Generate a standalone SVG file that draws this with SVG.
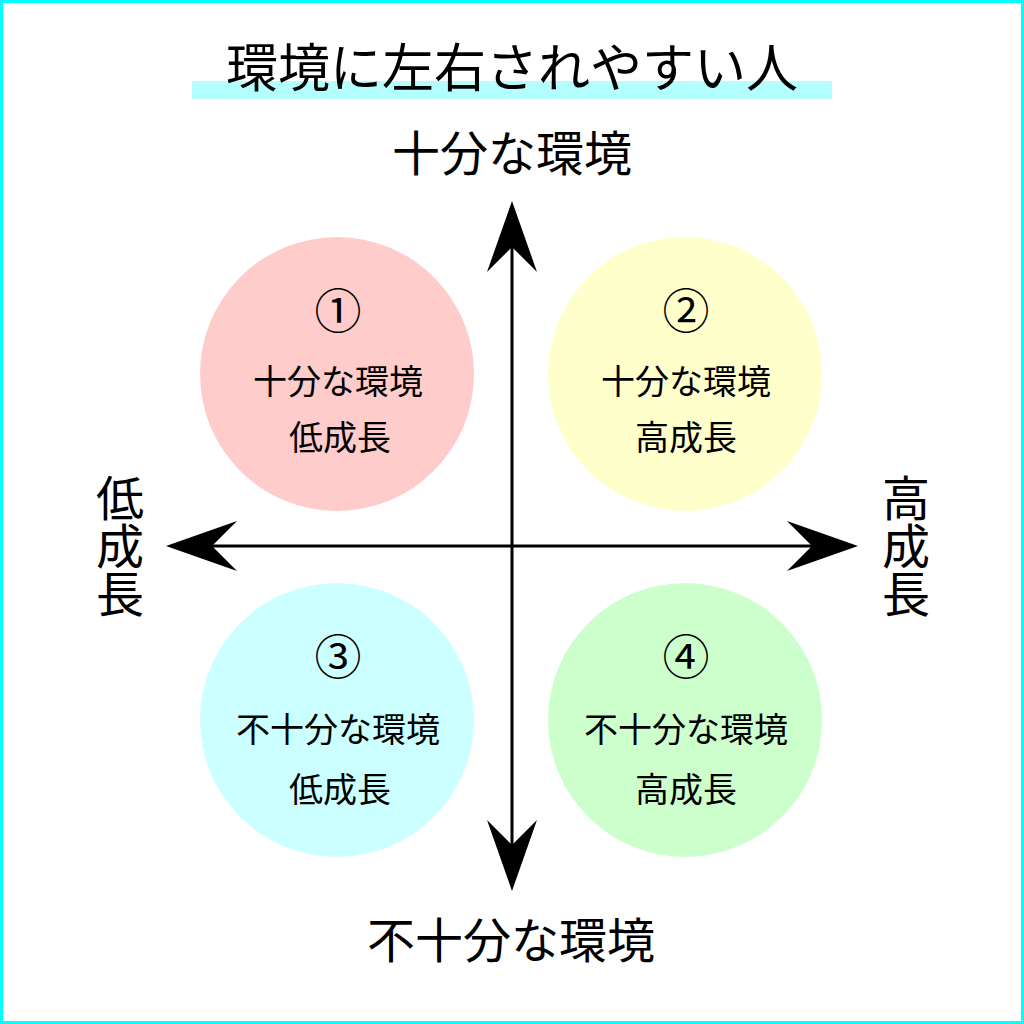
<svg xmlns="http://www.w3.org/2000/svg" width="1024" height="1024" viewBox="0 0 1024 1024">
  <style>
    text { font-family: "Noto Sans CJK JP", "Noto Sans CJK SC", sans-serif; fill: #000; text-anchor: middle; }
    .title { font-size: 52px; }
    .axis { font-size: 48px; }
    .vaxis { font-size: 48px; writing-mode: vertical-rl; text-orientation: upright; }
    .num { font-size: 47px; }
    .lbl { font-size: 34px; }
    .axisline { stroke: #000; stroke-width: 3; fill: none; marker-start: url(#arrow); marker-end: url(#arrow); }
  </style>
  <defs>
    <marker id="arrow" markerUnits="userSpaceOnUse" viewBox="-27 -27 74 54" markerWidth="74" markerHeight="54" refX="0" refY="0" orient="auto-start-reverse">
      <path d="M46,0 L-25,-25 L0,0 L-25,25 Z" fill="#000"/>
    </marker>
  </defs>
  <rect x="1.5" y="1.5" width="1021" height="1021" fill="#fff" stroke="#00ffff" stroke-width="3"/>

  <g id="title">
    <rect x="192" y="81" width="640" height="18" fill="#b3ffff"/>
    <text class="title" x="512" y="87">環境に左右されやすい人</text>
  </g>

  <g id="node1">
    <circle cx="337" cy="374" r="137" fill="#ffcccc"/>
    <text class="num" x="338" y="328">①</text>
    <text class="lbl" x="338" y="394">十分な環境</text>
    <text class="lbl" x="340" y="450">低成長</text>
  </g>
  <g id="node2">
    <circle cx="685" cy="374" r="137" fill="#ffffcc"/>
    <text class="num" x="686" y="328">②</text>
    <text class="lbl" x="686" y="394">十分な環境</text>
    <text class="lbl" x="686" y="450">高成長</text>
  </g>
  <g id="node3">
    <circle cx="337" cy="720" r="137" fill="#ccffff"/>
    <text class="num" x="338" y="674">③</text>
    <text class="lbl" x="338" y="742">不十分な環境</text>
    <text class="lbl" x="340" y="802">低成長</text>
  </g>
  <g id="node4">
    <circle cx="685" cy="720" r="137" fill="#ccffcc"/>
    <text class="num" x="686" y="674">④</text>
    <text class="lbl" x="686" y="742">不十分な環境</text>
    <text class="lbl" x="686" y="802">高成長</text>
  </g>

  <g id="connectors">
    <line class="axisline" x1="212" y1="546" x2="812" y2="546"/>
    <line class="axisline" x1="512" y1="845" x2="512" y2="247"/>
  </g>

  <g id="axis-top"><text class="axis" x="512" y="171">十分な環境</text></g>
  <g id="axis-bottom"><text class="axis" x="511" y="958">不十分な環境</text></g>
  <g id="axis-left"><text class="vaxis" x="120" y="546">低成長</text></g>
  <g id="axis-right"><text class="vaxis" x="906" y="546">高成長</text></g>
</svg>
